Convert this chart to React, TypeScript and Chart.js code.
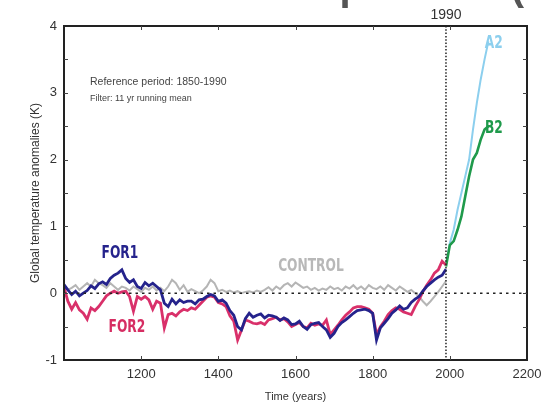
import React, { useEffect, useRef } from "react";
import { Chart, registerables } from "chart.js";

Chart.register(...registerables);

const histYears = [
  1000, 1010, 1020, 1030, 1040, 1050, 1060, 1070, 1080, 1090,
  1100, 1110, 1120, 1130, 1140, 1150, 1160, 1170, 1180, 1190,
  1200, 1210, 1220, 1230, 1240, 1250, 1260, 1270, 1280, 1290,
  1300, 1310, 1320, 1330, 1340, 1350, 1360, 1370, 1380, 1390,
  1400, 1410, 1420, 1430, 1440, 1450, 1460, 1470, 1480, 1490,
  1500, 1510, 1520, 1530, 1540, 1550, 1560, 1570, 1580, 1590,
  1600, 1610, 1620, 1630, 1640, 1650, 1660, 1670, 1680, 1690,
  1700, 1710, 1720, 1730, 1740, 1750, 1760, 1770, 1780, 1790,
  1800, 1810, 1820, 1830, 1840, 1850, 1860, 1870, 1880, 1890,
  1900, 1910, 1920, 1930, 1940, 1950, 1960, 1970, 1980, 1990,
];

const for1 = [
  0.13, 0.05, -0.02, 0.03, -0.04, 0.0, 0.04, 0.11, 0.07, 0.14,
  0.17, 0.13, 0.22, 0.27, 0.3, 0.35, 0.22, 0.16, 0.2, 0.1,
  0.07, 0.16, 0.11, 0.15, 0.1, 0.05, -0.15, -0.2, -0.09, -0.16,
  -0.1, -0.14, -0.12, -0.12, -0.16, -0.1, -0.09, -0.05, -0.02, -0.04,
  -0.12, -0.1, -0.15, -0.26, -0.33, -0.5, -0.55, -0.38, -0.3, -0.36,
  -0.33, -0.31, -0.37, -0.33, -0.34, -0.36, -0.41, -0.37, -0.4, -0.47,
  -0.46, -0.42, -0.5, -0.54, -0.47, -0.45, -0.44, -0.5, -0.55, -0.66,
  -0.6, -0.5, -0.44, -0.4, -0.35, -0.3, -0.26, -0.25, -0.24, -0.26,
  -0.3, -0.7, -0.52, -0.45, -0.38, -0.3, -0.25, -0.19, -0.24, -0.22,
  -0.14, -0.09, -0.05, 0.03, 0.1, 0.15, 0.2, 0.24, 0.27, 0.36,
];

const for2 = [
  0.09, -0.12, -0.24, -0.14, -0.25, -0.3, -0.39, -0.22, -0.26, -0.2,
  -0.12, -0.04, 0.0, 0.03, 0.0, 0.02, 0.03, -0.05, -0.27, -0.05,
  -0.09, -0.05, -0.1, -0.24, -0.12, -0.15, -0.52, -0.32, -0.3, -0.34,
  -0.28, -0.24, -0.26, -0.22, -0.24, -0.18, -0.12, -0.06, -0.04, -0.06,
  -0.14, -0.16, -0.2, -0.34, -0.42, -0.7, -0.55, -0.4, -0.42, -0.45,
  -0.46, -0.44, -0.47, -0.4, -0.38, -0.36, -0.4, -0.38, -0.43, -0.5,
  -0.47, -0.44, -0.5, -0.52, -0.45, -0.48, -0.46, -0.48, -0.4, -0.62,
  -0.55, -0.48, -0.4, -0.33, -0.28, -0.22, -0.2, -0.2, -0.22, -0.24,
  -0.3, -0.62, -0.5, -0.42, -0.32, -0.26, -0.22, -0.24, -0.28, -0.3,
  -0.32, -0.2, -0.1, 0.02, 0.12, 0.2, 0.3, 0.35, 0.48, 0.42,
];

const control = [
  0.1, 0.05, 0.08, 0.12, 0.05, 0.1, 0.15, 0.1, 0.2, 0.15,
  0.12, 0.08, 0.15, 0.1, 0.05, 0.1, 0.08, 0.04, 0.1, 0.06,
  0.02, 0.08, 0.05, 0.1, 0.04, 0.08, 0.03, 0.1, 0.2, 0.15,
  0.05, 0.12, 0.02, 0.06, 0.03, 0.0, 0.04, 0.1, 0.2, 0.15,
  0.03, 0.05, 0.02, 0.04, 0.01, 0.03, 0.0, 0.02, 0.03, 0.01,
  0.04, 0.02, 0.05, 0.09, 0.04, 0.1, 0.06, 0.12, 0.15, 0.1,
  0.16, 0.12, 0.08, 0.1, 0.05, 0.08, 0.04, 0.07, 0.05, 0.1,
  0.06, 0.08, 0.04, 0.1, 0.07, 0.12, 0.06, 0.1, 0.05, 0.12,
  0.08, 0.06, 0.1, 0.05, 0.12, 0.08, 0.04, 0.1, 0.06, 0.02,
  0.05, 0.0, -0.05, -0.12, -0.18, -0.12, -0.05, 0.02, 0.1, 0.18,
];

const scenYears = [1990, 2000, 2010, 2020, 2030, 2040, 2050, 2060, 2070, 2080, 2090, 2100];
const a2 = [0.42, 0.75, 0.95, 1.25, 1.5, 1.75, 2.0, 2.45, 2.85, 3.2, 3.5, 3.77];
const b2 = [0.4, 0.72, 0.78, 0.95, 1.15, 1.45, 1.75, 2.0, 2.1, 2.3, 2.45, 2.5];

const xTickLabels = [1200, 1400, 1600, 1800, 2000, 2200];
const yTickLabels = [-1, 0, 1, 2, 3, 4];

const FONT = 'Arial, "Liberation Sans", Helvetica, sans-serif';
const COND = '"DejaVu Sans Condensed", "Liberation Sans Narrow", "Roboto Condensed", Arial, sans-serif';

const pts = (xs: number[], ys: number[]) => xs.map((x, i) => ({ x, y: ys[i] }));

const overlay = {
  id: "overlay",
  afterDatasetsDraw(chart: any) {
    const { ctx, chartArea: a, scales } = chart;
    const xs = scales.x;
    const ys = scales.y;
    ctx.save();
    ctx.strokeStyle = "#222";
    ctx.lineWidth = 1.5;
    ctx.setLineDash([2.5, 4]);
    const y0 = ys.getPixelForValue(0);
    ctx.beginPath();
    ctx.moveTo(a.left, y0);
    ctx.lineTo(a.right, y0);
    ctx.stroke();
    ctx.setLineDash([1.5, 1.8]);
    const x1990 = xs.getPixelForValue(1990);
    ctx.beginPath();
    ctx.moveTo(x1990, a.top);
    ctx.lineTo(x1990, a.bottom);
    ctx.stroke();
    ctx.restore();
  },
  afterDraw(chart: any) {
    const { ctx, chartArea: a, scales } = chart;
    const xs = scales.x;
    const ys = scales.y;
    ctx.save();
    ctx.strokeStyle = "#222";
    ctx.lineWidth = 2;
    ctx.strokeRect(a.left, a.top, a.right - a.left, a.bottom - a.top);
    ctx.lineWidth = 1;
    ctx.strokeStyle = "#444";
    ctx.beginPath();
    for (let v = -0.5; v < 4; v += 0.5) {
      const py = Math.round(ys.getPixelForValue(v)) + 0.5;
      ctx.moveTo(a.left, py);
      ctx.lineTo(a.left + 4, py);
      ctx.moveTo(a.right, py);
      ctx.lineTo(a.right - 4, py);
    }
    for (const v of xTickLabels) {
      if (v >= 2200) continue;
      const px = Math.round(xs.getPixelForValue(v)) + 0.5;
      ctx.moveTo(px, a.top);
      ctx.lineTo(px, a.top + 4);
      ctx.moveTo(px, a.bottom);
      ctx.lineTo(px, a.bottom - 4);
    }
    ctx.stroke();

    ctx.fillStyle = "#333";
    ctx.font = `14px ${FONT}`;
    ctx.textAlign = "center";
    ctx.textBaseline = "middle";
    ctx.fillText("1990", xs.getPixelForValue(1990), a.top - 11);

    ctx.fillStyle = "#555";
    ctx.font = `bold 40px ${FONT}`;
    ctx.textAlign = "right";
    ctx.textBaseline = "alphabetic";
    ctx.fillText("Temperature (", 524, 0);

    ctx.fillStyle = "#444";
    ctx.textAlign = "left";
    ctx.textBaseline = "middle";
    ctx.font = `10.5px ${FONT}`;
    ctx.fillText("Reference period: 1850-1990", 90, 82);
    ctx.font = `9px ${FONT}`;
    ctx.fillText("Filter: 11 yr running mean", 90, 99);

    const lab = (t: string, col: string, yr: number, val: number, size: number) => {
      ctx.save();
      ctx.fillStyle = col;
      ctx.font = `bold ${size}px ${COND}`;
      ctx.textAlign = "center";
      ctx.textBaseline = "middle";
      ctx.translate(xs.getPixelForValue(yr), ys.getPixelForValue(val));
      ctx.scale(0.8, 1);
      ctx.fillText(t, 0, 0);
      ctx.restore();
    };
    lab("FOR1", "#25238c", 1145, 0.6, 17);
    lab("FOR2", "#d62d62", 1163, -0.52, 17);
    lab("CONTROL", "#b8b8b8", 1640, 0.4, 17);
    lab("A2", "#8ccfee", 2114, 3.73, 17);
    lab("B2", "#1f9a4b", 2114, 2.47, 17);
    ctx.restore();
  },
};

export default function App() {
  const ref = useRef<HTMLCanvasElement>(null);
  useEffect(() => {
    if (!ref.current) return;
    const chart = new Chart(ref.current, {
      type: "line",
      data: {
        datasets: [
          { label: "FOR1", data: pts(histYears, for1), borderColor: "#25238c", borderWidth: 2.8 },
          { label: "FOR2", data: pts(histYears, for2), borderColor: "#d9306a", borderWidth: 2.8 },
          { label: "B2", data: pts(scenYears, b2), borderColor: "#1f9a4b", borderWidth: 2.6 },
          { label: "A2", data: pts(scenYears, a2), borderColor: "#8ccfee", borderWidth: 2 },
          { label: "CONTROL", data: pts(histYears, control), borderColor: "#b5b5b5", borderWidth: 2 },
        ],
      },
      options: {
        responsive: false,
        animation: false,
        elements: { point: { radius: 0 }, line: { tension: 0 } },
        layout: { padding: { top: 26, right: 31, left: 0, bottom: 0 } },
        plugins: { legend: { display: false }, tooltip: { enabled: false } },
        scales: {
          x: {
            type: "linear",
            min: 1000,
            max: 2200,
            afterFit: (s: any) => { s.height = 45; },
            grid: { display: false, drawTicks: false },
            border: { display: false },
            ticks: {
              stepSize: 200,
              padding: 7,
              color: "#333",
              font: { family: FONT, size: 13 },
              callback: (v: any) => (xTickLabels.includes(Number(v)) ? String(v) : ""),
            },
            title: {
              display: true,
              text: "Time (years)",
              color: "#333",
              font: { family: FONT, size: 11 },
              padding: { top: 0, bottom: 1 },
            },
          },
          y: {
            min: -1,
            max: 4,
            afterFit: (s: any) => { s.width = 64; },
            grid: { display: false, drawTicks: false },
            border: { display: false },
            ticks: {
              stepSize: 1,
              padding: 7,
              color: "#333",
              font: { family: FONT, size: 13 },
              callback: (v: any) => (yTickLabels.includes(Number(v)) ? String(v) : ""),
            },
            title: {
              display: true,
              text: "Global temperature anomalies (K)",
              color: "#333",
              font: { family: FONT, size: 12 },
              padding: { top: 28, bottom: 0 },
            },
          },
        },
      },
      plugins: [overlay],
    });
    return () => chart.destroy();
  }, []);
  return (
    <div style={{ position: "absolute", left: 0, top: 0, width: 558, height: 405, background: "#fff" }}>
      <canvas ref={ref} width={558} height={405} />
    </div>
  );
}
